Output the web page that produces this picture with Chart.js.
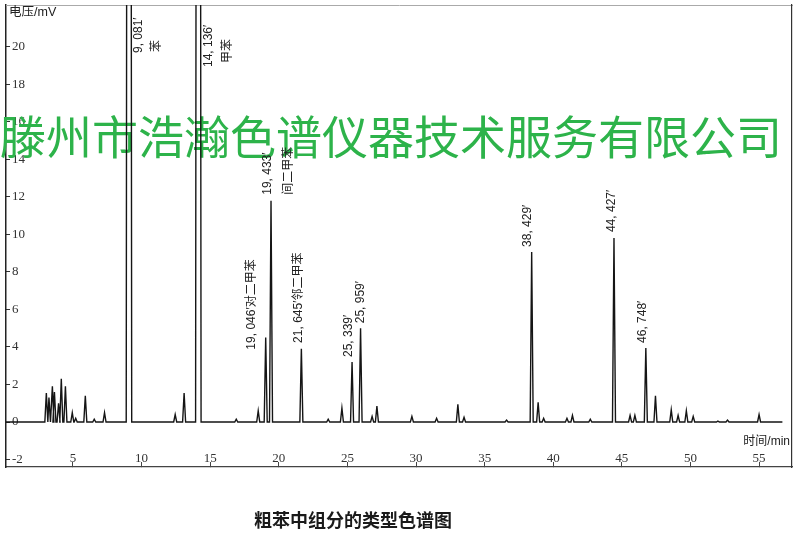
<!DOCTYPE html>
<html><head><meta charset="utf-8">
<script src="https://cdn.jsdelivr.net/npm/chart.js@4/dist/chart.umd.min.js"></script>
<style>html,body{margin:0;padding:0;background:#fff}canvas{display:block}</style>
</head><body>
<canvas id="c" width="800" height="547"></canvas>
<script>
// ---- data (time in min, signal in mV) ----
const peakTimes   = [3.06, 3.25, 3.5, 3.65, 3.95, 4.15, 4.45, 4.95, 5.2, 5.9, 6.55, 7.3,
                     9.081, 12.45, 13.1, 14.136, 16.9, 18.5, 19.046, 19.433, 21.645,
                     23.6, 24.6, 25.339, 25.959, 26.8, 27.15, 29.7, 31.5, 33.05, 33.5, 36.6,
                     38.429, 38.9, 39.3, 41.0, 41.4, 42.7, 44.427, 45.6, 45.95, 46.748, 47.45,
                     48.6, 49.1, 49.7, 50.2, 52.0, 52.7, 55.0];
const peakHeights = [1.55, 1.3, 1.9, 1.6, 1.0, 2.3, 1.9, 0.5, 0.2, 1.4, 0.15, 0.5,
                     150, 0.4, 1.55, 150, 0.15, 0.6, 4.5, 11.8, 3.9,
                     0.15, 0.75, 3.2, 5.0, 0.3, 0.85, 0.3, 0.2, 0.95, 0.25, 0.1,
                     9.07, 1.05, 0.2, 0.2, 0.35, 0.15, 9.81, 0.35, 0.35, 3.95, 1.4,
                     0.65, 0.35, 0.6, 0.3, 0.05, 0.1, 0.4];
const traceStart = 0.12, traceEnd = 56.7;
const xTickValues = [5, 10, 15, 20, 25, 30, 35, 40, 45, 50, 55];
const yTickValues = [-2, 0, 2, 4, 6, 8, 10, 12, 14, 16, 18, 20];
const labelTimes = [9.081, 14.136, 19.046, 19.433, 21.645, 25.339, 25.959, 38.429, 44.427, 46.748];
const labelTexts = [["9, 081′", "苯"], ["14, 136′", "甲苯"], ["19, 046′对二甲苯"], ["19, 433′", "间二甲苯"],
                    ["21, 645′邻二甲苯"], ["25, 339′"], ["25, 959′"], ["38, 429′"], ["44, 427′"], ["46, 748′"]];
const yTitle = "电压/mV", xTitle = "时间/min", caption = "粗苯中组分的类型色谱图";
const watermark = "滕州市浩瀚色谱仪器技术服务有限公司";

// ---- layout / style (not data) ----
const labelLayout = [ // per column: [dx from peak, dy of text start from peak top]
  [[10, 48], [28, 47]], [[10, 62], [29, 58]], [[-14, 12]], [[-3, -6], [18, -6]],
  [[-3, -6]], [[-3, -5]], [[0, -5]], [[-4, -5]], [[-2, -6]], [[-3, -5]]
];

// build the trace from the peak table
const order = peakTimes.map((t, i) => i).sort((a, b) => peakTimes[a] - peakTimes[b]);
const trace = [{x: traceStart, y: 0}];
order.forEach(i => {
  const t = peakTimes[i], h = peakHeights[i];
  const w = h > 30 ? 0.2 : 0.11;
  trace.push({x: t - w, y: 0}, {x: t, y: h}, {x: t + w, y: 0});
});
trace.push({x: traceEnd, y: 0});

const zeroPad = s => { s.paddingLeft = s.paddingRight = s.paddingTop = s.paddingBottom = 0; };

const decor = {
  id: 'decor',
  beforeDatasetsDraw(chart) {
    const ctx = chart.ctx;
    ctx.save();
    ctx.font = '46px "Noto Sans CJK SC"';
    ctx.fillStyle = '#2db34a';
    ctx.textBaseline = 'middle';
    ctx.textAlign = 'left';
    ctx.fillText(watermark, 0, 137);
    ctx.restore();
  },
  afterDatasetsDraw(chart) {
    const ctx = chart.ctx, xs = chart.scales.x, ys = chart.scales.y, ca = chart.chartArea;
    ctx.save();
    ctx.fillStyle = '#222';
    ctx.font = '12px "Liberation Sans", "Noto Sans CJK SC"';
    ctx.textBaseline = 'middle';
    ctx.textAlign = 'left';
    labelTimes.forEach((t, i) => {
      const h = peakHeights[peakTimes.indexOf(t)];
      const px = xs.getPixelForValue(t);
      const py = Math.max(ca.top, ys.getPixelForValue(h));
      labelTexts[i].forEach((txt, j) => {
        const [dx, dy] = labelLayout[i][j];
        ctx.save();
        ctx.translate(px + dx, py + dy);
        ctx.rotate(-Math.PI / 2);
        ctx.fillText(txt, 0, 0);
        ctx.restore();
      });
    });
    ctx.restore();
  },
  afterDraw(chart) {
    const ctx = chart.ctx;
    ctx.save();
    ctx.fillStyle = '#222';
    ctx.textBaseline = 'middle';
    ctx.font = '12.5px "Liberation Sans", "Noto Sans CJK SC"';
    ctx.textAlign = 'left';
    ctx.fillText(yTitle, 9, 13);
    ctx.font = '12px "Liberation Sans", "Noto Sans CJK SC"';
    ctx.textAlign = 'right';
    ctx.fillText(xTitle, 790, 442);
    ctx.font = '600 18px "Noto Sans CJK SC"';
    ctx.textAlign = 'center';
    ctx.fillStyle = '#1a1a1a';
    ctx.fillText(caption, 353, 520);
    ctx.restore();
  }
};

new Chart(document.getElementById('c'), {
  type: 'line',
  data: { datasets: [{ data: trace, borderColor: '#151515', borderWidth: 1.4, pointRadius: 0,
                       tension: 0, fill: false, xAxisID: 'x', yAxisID: 'y' }] },
  options: {
    responsive: false, animation: false, devicePixelRatio: 1,
    layout: { padding: { left: 6, right: 8, top: 5, bottom: 80 } },
    plugins: { legend: { display: false }, tooltip: { enabled: false }, title: { display: false } },
    scales: {
      x: {
        type: 'linear', position: 'bottom', min: 0.12, max: 57.4,
        afterBuildTicks: s => { s.ticks = xTickValues.map(v => ({value: v})); },
        afterFit: s => { s.height = 0; zeroPad(s); },
        grid: { display: true, drawOnChartArea: false, drawTicks: true, tickLength: -5, color: '#444', lineWidth: 1 },
        border: { display: true, color: '#444', width: 1.2 },
        ticks: { mirror: true, padding: 1, color: '#333', autoSkip: false, maxRotation: 0,
                 font: { family: '"Liberation Serif"', size: 13 } }
      },
      y: {
        type: 'linear', position: 'left', min: -2.4, max: 22.24,
        afterBuildTicks: s => { s.ticks = yTickValues.map(v => ({value: v})); },
        afterFit: s => { s.width = 0; zeroPad(s); },
        grid: { display: true, drawOnChartArea: false, drawTicks: true, tickLength: -4, color: '#333', lineWidth: 1 },
        border: { display: true, color: '#222', width: 1.5 },
        ticks: { mirror: true, padding: 6, color: '#333', autoSkip: false,
                 font: { family: '"Liberation Serif"', size: 13 } }
      },
      xTop: {
        type: 'linear', position: 'top', min: 0, max: 1,
        afterFit: s => { s.height = 0; zeroPad(s); },
        grid: { display: false }, ticks: { display: false },
        border: { display: true, color: '#aaa', width: 1 }
      },
      yRight: {
        type: 'linear', position: 'right', min: 0, max: 1,
        afterFit: s => { s.width = 0; zeroPad(s); },
        grid: { display: false }, ticks: { display: false },
        border: { display: true, color: '#333', width: 1.2 }
      }
    }
  },
  plugins: [decor]
});
</script>
</body></html>
